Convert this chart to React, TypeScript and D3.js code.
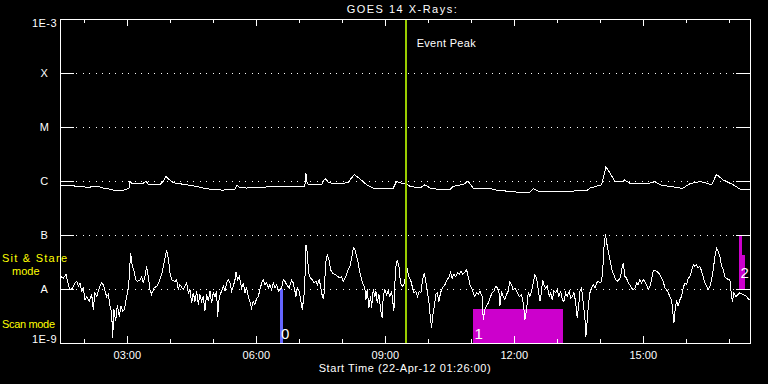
import React from "react";
import * as d3 from "d3";

// ---- Data ----
// Start of the plot: 22-Apr-2012 01:26:00 UT; times are minutes after start.
const START_UTC = Date.UTC(2012, 3, 22, 1, 26, 0);
const SPAN_MINUTES = 963;

// Y-axis flare-class levels
const levelLabels = ["1E-9", "A", "B", "C", "M", "X", "1E-3"];
const levelValues = [1e-9, 1e-8, 1e-7, 1e-6, 1e-5, 1e-4, 1e-3];
const gridLevels = [1e-8, 1e-7, 1e-6, 1e-5, 1e-4];

// Long channel (1-8 A): [minute, log10 flux W/m^2]
const longChannel: [number, number][] = [
  [0, -6.07], [4.7, -6.08], [18.6, -6.08], [20.9, -6.1], [34.9, -6.11], [39.5, -6.12],
  [46.5, -6.1], [55.8, -6.11], [60.5, -6.13], [69.8, -6.15], [74.4, -6.17], [88.4, -6.17],
  [93.0, -6.15], [96.3, -6.14], [97.7, -6.01], [100.0, -6.04], [111.6, -6.05], [116.3, -6.04],
  [120.0, -6.0], [123.3, -6.07], [139.5, -6.07], [144.2, -6.0], [147.9, -5.91], [151.2, -5.96],
  [155.8, -6.01], [160.5, -6.04], [172.1, -6.06], [186.0, -6.09], [200.0, -6.13], [209.3, -6.15],
  [227.9, -6.17], [232.6, -6.15], [244.2, -6.15], [246.5, -6.08], [251.2, -6.12], [260.5, -6.13],
  [279.1, -6.12], [288.4, -6.11], [297.7, -6.1], [320.9, -6.1], [339.5, -6.1], [341.8, -6.09],
  [343.2, -5.86], [345.1, -6.05], [348.8, -6.07], [365.1, -6.07], [367.4, -5.99], [371.1, -5.96],
  [374.4, -6.02], [381.4, -6.05], [388.3, -6.04], [395.3, -6.05], [402.3, -6.02], [410.7, -5.88],
  [418.6, -5.96], [427.9, -6.07], [437.2, -6.13], [465.1, -6.13], [469.7, -6.01], [476.7, -6.04],
  [483.7, -6.05], [488.3, -6.1], [502.3, -6.13], [509.3, -6.07], [516.3, -6.13], [525.5, -6.15],
  [544.2, -6.16], [548.8, -6.1], [562.8, -6.06], [569.7, -6.01], [576.7, -6.13], [600.0, -6.14],
  [609.3, -6.17], [641.9, -6.21], [655.9, -6.21], [660.5, -6.14], [667.5, -6.19], [702.4, -6.19],
  [734.9, -6.18], [739.6, -6.13], [753.5, -6.08], [755.8, -6.07], [761.9, -5.74], [767.5, -5.85],
  [774.5, -6.01], [786.1, -6.01], [787.5, -5.98], [795.4, -6.04], [823.3, -6.04], [830.3, -6.01],
  [837.2, -6.07], [851.2, -6.1], [865.1, -6.13], [869.8, -6.13], [879.1, -6.05], [893.1, -6.01],
  [902.4, -6.04], [909.3, -6.07], [916.3, -5.88], [925.6, -5.98], [939.6, -6.07], [948.9, -6.15],
  [962.8, -6.16],
];

// Short channel (0.5-4 A): [minute, log10 flux W/m^2]
const shortChannel: [number, number][] = [
  [0, -7.83], [2.3, -7.77], [4.7, -7.8], [8.4, -7.73], [10.2, -7.83], [13.0, -7.98], [14.9, -8.01],
  [17.7, -7.98], [20.9, -7.89], [23.3, -7.86], [25.6, -7.95], [27.9, -7.89], [30.2, -8.04],
  [32.6, -7.98], [34.9, -8.2], [37.2, -8.14], [40.9, -8.23], [44.2, -8.1], [46.5, -8.38],
  [48.8, -8.07], [51.2, -8.14], [55.8, -7.95], [58.1, -7.89], [60.5, -7.92], [62.8, -8.04],
  [65.1, -8.14], [67.4, -8.1], [69.8, -8.32], [72.1, -8.44], [73.5, -8.91], [75.3, -8.38],
  [77.7, -8.6], [80.0, -8.29], [82.8, -8.51], [85.1, -8.32], [87.4, -8.41], [89.8, -8.38],
  [92.1, -8.2], [94.4, -8.07], [96.3, -7.83], [98.6, -7.33], [100.9, -7.58], [103.3, -7.67],
  [106.0, -7.83], [108.4, -7.86], [111.6, -7.83], [114.0, -7.77], [116.3, -7.89], [118.6, -7.77],
  [120.9, -7.58], [123.3, -7.77], [125.6, -8.01], [127.9, -8.1], [131.2, -7.98], [134.9, -7.95],
  [138.6, -7.86], [141.9, -7.73], [144.2, -7.58], [146.5, -7.43], [148.8, -7.28], [151.2, -7.43],
  [153.5, -7.7], [155.8, -7.83], [160.5, -7.86], [162.8, -7.83], [165.1, -8.01], [167.4, -7.92],
  [172.1, -8.01], [176.7, -7.89], [179.1, -8.07], [181.4, -8.01], [183.7, -8.26], [186.0, -8.07],
  [188.4, -8.23], [190.7, -8.04], [193.0, -8.29], [195.3, -8.1], [197.7, -8.23], [200.0, -8.14],
  [202.3, -8.41], [204.6, -8.1], [207.0, -8.23], [209.3, -8.04], [211.6, -8.26], [213.9, -8.07],
  [216.3, -8.14], [218.6, -8.04], [220.0, -8.51], [222.3, -8.14], [225.6, -8.04], [227.9, -7.95],
  [230.2, -8.04], [232.6, -7.89], [234.9, -7.83], [237.2, -7.89], [239.5, -8.04], [241.9, -7.95],
  [244.2, -7.83], [245.6, -7.69], [247.9, -7.83], [250.2, -7.77], [253.5, -7.98], [255.8, -7.89],
  [258.1, -8.07], [260.5, -7.98], [262.8, -8.14], [265.1, -8.23], [267.4, -8.35], [269.8, -8.23],
  [272.1, -8.29], [274.4, -8.17], [276.7, -8.14], [279.1, -8.01], [281.4, -7.89], [283.7, -7.83],
  [286.0, -7.92], [288.4, -7.89], [290.7, -7.98], [293.0, -7.92], [295.3, -8.01], [297.7, -7.89],
  [300.0, -7.98], [302.3, -7.92], [304.6, -8.04], [307.0, -8.01], [309.3, -7.98], [311.6, -7.83],
  [313.9, -7.86], [316.3, -7.92], [320.0, -7.98], [323.2, -7.83], [325.6, -7.89], [327.9, -8.04],
  [329.3, -8.14], [331.1, -7.98], [333.9, -8.04], [335.8, -8.2], [338.1, -8.38], [340.4, -8.14],
  [341.8, -7.83], [343.2, -7.18], [345.1, -7.33], [346.9, -7.7], [349.7, -7.8], [352.5, -7.83],
  [354.4, -7.89], [357.2, -7.86], [359.5, -7.92], [361.8, -7.83], [363.7, -7.95], [365.6, -8.1],
  [367.4, -8.17], [368.8, -8.07], [370.7, -7.52], [373.0, -7.36], [375.3, -7.46], [377.6, -7.64],
  [380.0, -7.7], [383.7, -7.73], [388.3, -7.77], [390.7, -7.8], [393.0, -7.77], [395.3, -7.86],
  [399.0, -7.77], [402.3, -7.64], [404.6, -7.58], [407.0, -7.43], [409.3, -7.24], [411.6, -7.27],
  [413.9, -7.4], [416.2, -7.52], [418.6, -7.7], [422.3, -7.89], [425.5, -7.98], [426.9, -8.2],
  [428.8, -8.01], [431.1, -8.35], [433.5, -8.14], [434.9, -8.35], [437.2, -8.01], [439.5, -8.14],
  [440.9, -8.04], [442.8, -8.26], [445.1, -8.1], [447.4, -8.38], [449.7, -8.54], [451.1, -8.14],
  [453.5, -8.01], [455.8, -8.1], [458.1, -8.04], [460.4, -8.14], [462.8, -8.04], [464.2, -8.2],
  [466.0, -8.41], [467.4, -7.89], [468.8, -7.58], [470.7, -7.46], [473.0, -7.58], [475.3, -7.89],
  [478.1, -7.95], [480.0, -7.92], [484.6, -7.61], [486.5, -7.77], [489.3, -7.83], [492.1, -7.98],
  [493.9, -8.07], [496.7, -8.04], [499.0, -8.14], [501.4, -8.04], [503.7, -8.07], [506.0, -7.83],
  [508.3, -7.7], [510.2, -7.83], [512.5, -8.04], [514.8, -8.23], [517.2, -8.57], [518.6, -8.72],
  [520.0, -8.51], [522.3, -8.32], [524.6, -8.1], [526.5, -8.07], [528.8, -8.23], [531.1, -8.07],
  [533.5, -7.98], [537.2, -7.92], [540.4, -7.83], [543.2, -7.77], [545.1, -7.7], [547.4, -7.8],
  [549.7, -7.73], [552.1, -7.77], [554.9, -7.7], [557.2, -7.73], [559.5, -7.67], [561.8, -7.73],
  [564.2, -7.7], [567.4, -7.64], [569.7, -7.77], [572.1, -7.92], [574.4, -7.98], [576.7, -8.07],
  [579.0, -8.14], [581.4, -8.07], [583.7, -8.1], [586.0, -8.04], [589.3, -8.14], [590.7, -8.57],
  [593.0, -8.38], [595.3, -8.32], [597.6, -8.26], [600.0, -8.17], [603.2, -8.07], [605.5, -8.04],
  [608.3, -7.95], [610.2, -7.98], [612.5, -8.04], [613.9, -8.32], [616.2, -8.04], [618.6, -8.14],
  [620.9, -8.2], [623.2, -8.1], [625.5, -8.04], [627.9, -7.86], [630.2, -7.92], [632.5, -8.01],
  [634.8, -7.98], [637.2, -8.04], [640.9, -8.14], [644.2, -8.1], [646.6, -8.26], [648.9, -8.57],
  [651.2, -8.38], [653.5, -8.07], [655.9, -8.14], [658.2, -8.04], [660.5, -7.89], [662.8, -7.73],
  [665.2, -7.8], [667.5, -8.01], [669.8, -8.23], [672.1, -8.04], [673.5, -7.83], [675.4, -7.92],
  [677.7, -7.98], [680.0, -7.95], [682.8, -8.14], [684.7, -8.07], [687.0, -8.2], [689.3, -8.04],
  [691.7, -8.07], [694.0, -8.01], [696.3, -8.14], [698.6, -8.04], [701.0, -8.2], [703.3, -8.23],
  [705.6, -8.07], [707.9, -8.14], [710.7, -8.04], [712.6, -8.17], [714.9, -8.14], [717.2, -8.07],
  [719.6, -8.23], [721.9, -8.54], [724.2, -8.26], [725.6, -8.04], [727.9, -7.98], [729.3, -8.14],
  [731.2, -8.38], [733.1, -8.63], [734.0, -8.88], [735.9, -8.57], [737.7, -8.26], [739.6, -8.07],
  [741.9, -7.98], [744.2, -7.92], [746.5, -7.98], [748.9, -7.89], [751.2, -7.86], [753.5, -7.89],
  [755.8, -7.86], [757.2, -7.7], [759.6, -7.15], [761.4, -6.99], [763.8, -7.21], [766.1, -7.36],
  [768.4, -7.52], [770.7, -7.67], [773.1, -7.73], [775.4, -7.83], [777.7, -7.86], [780.0, -7.83],
  [782.4, -7.77], [784.7, -7.58], [786.1, -7.52], [788.4, -7.77], [790.7, -7.8], [793.1, -7.89],
  [795.4, -7.92], [797.7, -7.98], [800.0, -8.01], [802.4, -7.98], [804.7, -7.89], [807.0, -7.92],
  [809.3, -7.83], [811.7, -7.89], [814.0, -7.83], [816.3, -7.86], [818.6, -7.92], [821.0, -8.01],
  [823.3, -7.95], [825.6, -7.83], [827.9, -7.67], [830.3, -7.65], [832.6, -7.67], [834.9, -7.7],
  [837.2, -7.73], [839.6, -7.8], [841.9, -7.86], [844.2, -7.98], [846.5, -8.01], [848.9, -8.07],
  [851.2, -8.14], [853.5, -8.2], [854.9, -8.38], [856.8, -8.63], [858.6, -8.38], [860.5, -8.2],
  [862.8, -8.32], [865.1, -8.2], [867.5, -8.14], [869.8, -7.98], [872.1, -7.89], [874.5, -7.92],
  [876.8, -7.8], [879.1, -7.77], [881.4, -7.67], [883.8, -7.55], [886.1, -7.58], [888.4, -7.55],
  [890.7, -7.61], [893.1, -7.58], [895.4, -7.67], [897.7, -7.77], [900.0, -7.89], [902.4, -7.95],
  [904.7, -8.01], [907.0, -7.95], [909.3, -7.83], [911.7, -7.64], [914.0, -7.4], [916.3, -7.24],
  [918.6, -7.3], [921.0, -7.4], [923.3, -7.58], [925.6, -7.64], [927.9, -7.77], [930.2, -7.8],
  [932.6, -7.83], [934.9, -7.83], [937.2, -8.14], [938.6, -8.23], [940.5, -8.07], [943.3, -8.14],
  [946.5, -8.1], [948.9, -8.07], [953.5, -8.1], [958.2, -8.14], [961.9, -8.2],
];

// Event peak (minutes after start)
const eventPeakMinute = 482.4;
const eventPeakLabel = "Event Peak";

// Observing-mode blocks: [startMin, endMin, bottomFlux, topFlux]
const modeBlockLabels = ["0", "1", "2"];
const modeBlocks: [number, number, number, number][][] = [
  [[307.2, 311.0, 1e-9, 1e-8]],
  [[575.8, 701.4, 1e-9, 4.2e-9]],
  [[947.0, 951.6, 1e-8, 1e-7], [951.6, 956.2, 1e-8, 4.2e-8]],
];
const modeBlockColors = ["#6666ff", "#cc00cc", "#cc00cc"];

const titleText = "GOES 14 X-Rays:";
const xTitleText = "Start Time (22-Apr-12 01:26:00)";

// ---- Layout ----
const W = 768;
const H = 384;
const L = 60;
const R = 750;
const T = 19;
const B = 343;
const FONT = "'Liberation Sans', Arial, sans-serif";

export default function App() {
  const x = d3
    .scaleUtc()
    .domain([new Date(START_UTC), new Date(START_UTC + SPAN_MINUTES * 60000)])
    .range([L, R]);
  const xm = (m: number) => x(new Date(START_UTC + m * 60000));
  const y = d3.scaleLog().domain([1e-9, 1e-3]).range([B, T]);

  const majorTicks = x.ticks(d3.utcHour.every(3)!);
  const minorTicks = x.ticks(d3.utcHour.every(1)!);
  const fmt = d3.utcFormat("%H:%M");

  const line = d3
    .line<[number, number]>()
    .x((d) => xm(d[0]))
    .y((d) => y(Math.pow(10, d[1])));

  const px = (v: number) => Math.round(v) + 0.5;

  return (
    <div style={{ position: "fixed", left: 0, top: 0, width: W, height: H, background: "#000" }}>
      <svg width={W} height={H} style={{ display: "block", background: "#000" }} fontFamily={FONT}>
        <rect x={0} y={0} width={W} height={H} fill="#000" />

        {/* mode blocks */}
        {modeBlocks.map((segs, i) =>
          segs.map((s, j) => (
            <rect
              key={`b${i}-${j}`}
              x={xm(s[0])}
              y={y(s[3])}
              width={xm(s[1]) - xm(s[0])}
              height={y(s[2]) - y(s[3])}
              fill={modeBlockColors[i]}
              shapeRendering="crispEdges"
            />
          ))
        )}

        {/* grid dotted lines */}
        {gridLevels.map((v) => (
          <line
            key={`g${v}`}
            x1={L + 16}
            x2={R - 14}
            y1={px(y(v))}
            y2={px(y(v))}
            stroke="#fff"
            strokeWidth={1}
            strokeDasharray="1 5.5"
            shapeRendering="crispEdges"
          />
        ))}

        {/* y ticks */}
        {levelValues.map((v) => (
          <g key={`yt${v}`} shapeRendering="crispEdges">
            <line x1={L} x2={L + 14} y1={px(y(v))} y2={px(y(v))} stroke="#fff" />
            <line x1={R - 14} x2={R} y1={px(y(v))} y2={px(y(v))} stroke="#fff" />
          </g>
        ))}

        {/* x ticks */}
        {minorTicks.map((t) => {
          const isMajor = majorTicks.some((m) => +m === +t);
          const len = isMajor ? 7 : 4;
          const xx = px(x(t));
          return (
            <g key={`xt${+t}`} shapeRendering="crispEdges">
              <line x1={xx} x2={xx} y1={T} y2={T + len} stroke="#fff" />
              <line x1={xx} x2={xx} y1={B} y2={B - len} stroke="#fff" />
            </g>
          );
        })}

        {/* curves */}
        <path d={line(longChannel) || ""} fill="none" stroke="#fff" strokeWidth={1} shapeRendering="crispEdges" />
        <path d={line(shortChannel) || ""} fill="none" stroke="#fff" strokeWidth={1} shapeRendering="crispEdges" />

        {/* event peak */}
        <line
          x1={xm(eventPeakMinute)}
          x2={xm(eventPeakMinute)}
          y1={T}
          y2={B}
          stroke="#99cc00"
          strokeWidth={2}
          shapeRendering="crispEdges"
        />
        <text x={xm(eventPeakMinute) + 11} y={47} fill="#fff" fontSize={11} textLength={59} lengthAdjust="spacing">
          {eventPeakLabel}
        </text>

        {/* frame */}
        <rect
          x={L + 0.5}
          y={T + 0.5}
          width={R - L}
          height={B - T}
          fill="none"
          stroke="#fff"
          strokeWidth={1}
          shapeRendering="crispEdges"
        />

        {/* block labels */}
        {modeBlocks.map((segs, i) => {
          const s = segs[0];
          const baseY = i === 2 ? 278 : 339;
          return (
            <text key={`bl${i}`} x={xm(s[0]) + (i === 0 ? 1 : 2)} y={baseY} fill="#fff" fontSize={15}>
              {modeBlockLabels[i]}
            </text>
          );
        })}

        {/* y labels */}
        {levelLabels.map((lab, i) => {
          const yy = y(levelValues[i]);
          let base = yy + 4;
          if (i === levelLabels.length - 1) base = yy + 8;
          if (i === 0) base = yy;
          return (
            <text key={lab} x={44.5} y={base} fill="#fff" fontSize={11} textAnchor="middle" letterSpacing={0.5}>
              {lab}
            </text>
          );
        })}

        {/* mode labels */}
        <text x={2} y={262} fill="#ffff00" fontSize={11} textLength={65} lengthAdjust="spacing">
          Sit &amp; Stare
        </text>
        <text x={12} y={275} fill="#ffff00" fontSize={11}>
          mode
        </text>
        <text x={2} y={328} fill="#ffff00" fontSize={11} textLength={53} lengthAdjust="spacing">
          Scan mode
        </text>

        {/* x tick labels */}
        {majorTicks.map((t) => (
          <text key={`xl${+t}`} x={x(t)} y={359} fill="#fff" fontSize={11} textAnchor="middle">
            {fmt(t)}
          </text>
        ))}

        {/* titles */}
        <text x={401.7} y={13} fill="#fff" fontSize={11} textAnchor="middle" textLength={110} lengthAdjust="spacing">
          {titleText}
        </text>
        <text x={404.7} y={372} fill="#fff" fontSize={11} textAnchor="middle" textLength={172} lengthAdjust="spacing">
          {xTitleText}
        </text>
      </svg>
    </div>
  );
}
